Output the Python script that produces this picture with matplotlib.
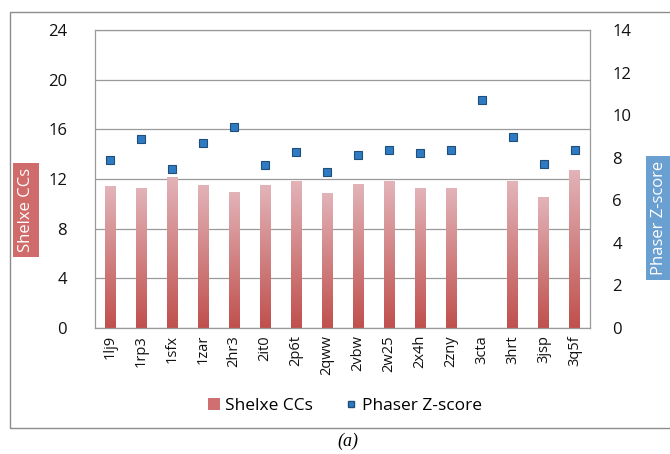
import matplotlib
matplotlib.use("Agg")
import matplotlib.pyplot as plt
import numpy as np
from matplotlib.colors import LinearSegmentedColormap
from matplotlib.patches import Rectangle, Patch
from matplotlib.lines import Line2D

plt.rcParams['font.family'] = ['Open Sans', 'DejaVu Sans']

categories = ["1lj9", "1rp3", "1sfx", "1zar", "2hr3", "2it0", "2p6t", "2qww",
              "2vbw", "2w25", "2x4h", "2zny", "3cta", "3hrt", "3jsp", "3q5f"]
shelxe_cc = [11.4, 11.3, 12.2, 11.55, 10.97, 11.5, 11.84, 10.9,
             11.6, 11.8, 11.3, 11.3, 0.0, 11.8, 10.55, 12.75]
phaser_z = [7.89, 8.86, 7.45, 8.7, 9.43, 7.66, 8.28, 7.34,
            8.13, 8.36, 8.2, 8.36, 10.71, 8.99, 7.7, 8.36]
left_ticks = [0, 4, 8, 12, 16, 20, 24]
right_ticks = [0, 2, 4, 6, 8, 10, 12, 14]

fig = plt.figure(figsize=(6.70, 4.54), dpi=100)
W, H = 670, 454
# outer frame
fig.patches.append(Rectangle((10 / W, 1 - 428 / H), 700 / W, (428 - 12) / H,
                             transform=fig.transFigure, fill=False,
                             edgecolor='#8c8c8c', linewidth=1.0))

ax = fig.add_axes([95 / W, 1 - 328 / H, (590 - 95) / W, (328 - 30) / H])
x = np.arange(len(categories))
ax.set_xlim(-0.5, len(categories) - 0.5)
ax.set_ylim(0, 24)
ax.set_yticks(left_ticks)
ax.set_yticklabels([str(t) for t in left_ticks], fontsize=12, color='#111111')
ax.yaxis.grid(True, color='#9a9a9a', linewidth=0.9)
ax.set_axisbelow(True)
for s in ax.spines.values():
    s.set_color('#9a9a9a')
    s.set_linewidth(0.9)
ax.tick_params(axis='y', length=0, pad=20)
ax.set_xticks(x)
ax.set_xticklabels(categories, rotation=90, fontsize=10.5, color='#111111')
ax.tick_params(axis='x', length=0, pad=5)

cmap = LinearSegmentedColormap.from_list('g', ['#c0504d', '#e2b4b9'])
grad = np.linspace(0, 1, 256).reshape(-1, 1)
bars = ax.bar(x, shelxe_cc, width=0.34, color='none', edgecolor='none', zorder=2)
for b in bars:
    if b.get_height() <= 0:
        continue
    bx, by = b.get_x(), b.get_y()
    bw, bh = b.get_width(), b.get_height()
    im = ax.imshow(grad, cmap=cmap, aspect='auto', origin='lower',
                   extent=[bx, bx + bw, 0, bh], zorder=2)
    im.set_clip_path(b)
ax.set_xlim(-0.5, len(categories) - 0.5)
ax.set_ylim(0, 24)

ax2 = ax.twinx()
ax2.set_ylim(0, 14)
ax2.set_yticks(right_ticks)
ax2.set_yticklabels([str(t) for t in right_ticks], fontsize=12, color='#111111')
ax2.tick_params(axis='y', length=0, pad=16)
for s in ax2.spines.values():
    s.set_visible(False)
ax2.plot(x, phaser_z, linestyle='none', marker='s', markersize=5.8,
         markerfacecolor='#2e7bc4', markeredgecolor='#1f4e79',
         markeredgewidth=0.8, zorder=3)

# axis title boxes
fig.text(26 / W, 1 - 210 / H, "Shelxe CCs", rotation=90, ha='center', va='center',
         color='white', fontsize=12,
         bbox=dict(boxstyle='square,pad=0.3', facecolor='#d06b6b', edgecolor='none'))
fig.text(659 / W, 1 - 218 / H, "Phaser Z-score", rotation=90, ha='center', va='center',
         color='white', fontsize=12,
         bbox=dict(boxstyle='square,pad=0.3', facecolor='#6a9fd2', edgecolor='none'))

handles = [Patch(facecolor='#cf6f72', edgecolor='none'),
           Line2D([], [], linestyle='none', marker='s', markersize=5,
                  markerfacecolor='#2e7bc4', markeredgecolor='#1f4e79')]
fig.legend(handles, ["Shelxe CCs", "Phaser Z-score"], loc='center',
           bbox_to_anchor=(345 / W, 1 - 406 / H), ncol=2, frameon=False,
           fontsize=12.5, handlelength=0.7, handleheight=0.7, handletextpad=0.3,
           columnspacing=1.8)

fig.text(348 / W, 1 - 441 / H, "(a)", ha='center', va='center', fontsize=13,
         style='italic', family=['Liberation Serif', 'DejaVu Serif'])

fig.savefig("out.png", dpi=100)
